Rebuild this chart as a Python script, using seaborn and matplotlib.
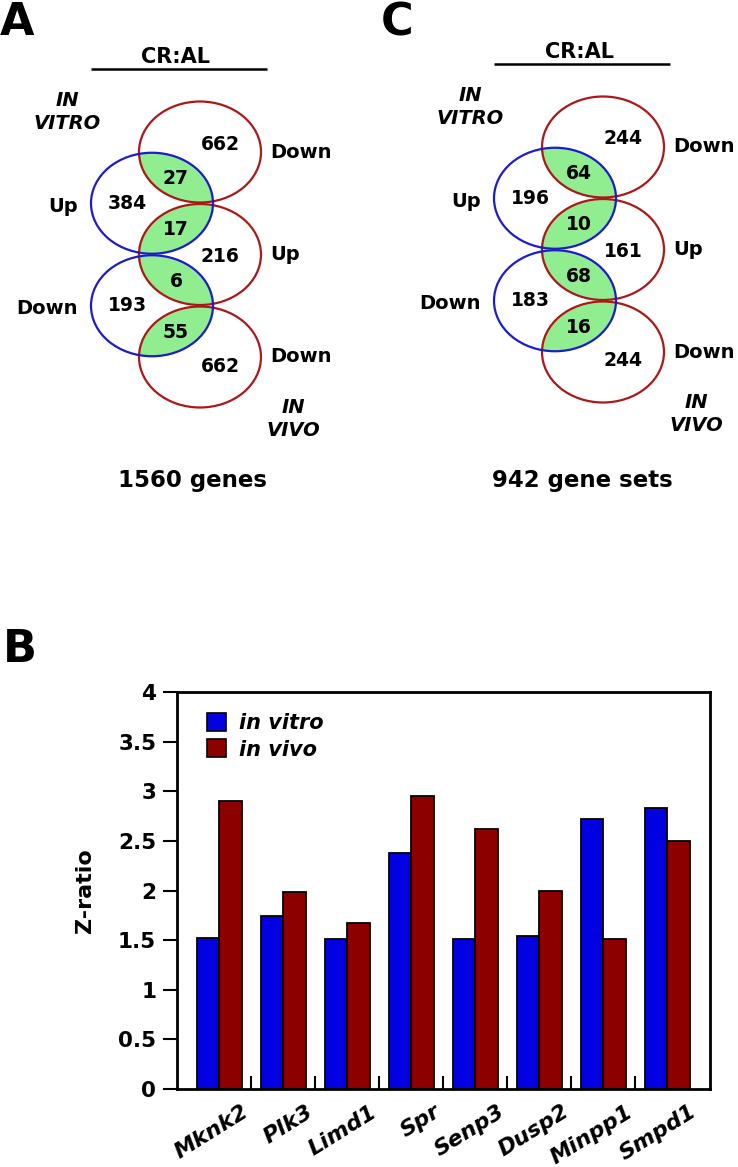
import numpy as np
import pandas as pd
import matplotlib
matplotlib.use("Agg")
import matplotlib.pyplot as plt
import matplotlib.patches as mpatches
import matplotlib.transforms as mtrans
import seaborn as sns

# ── Data ────────────────────────────────────────────────────
genes = ["Mknk2", "Plk3", "Limd1", "Spr", "Senp3", "Dusp2", "Minpp1", "Smpd1"]
z_in_vitro = [1.52, 1.74, 1.51, 2.38, 1.51, 1.54, 2.72, 2.83]
z_in_vivo = [2.90, 1.99, 1.67, 2.95, 2.62, 2.00, 1.51, 2.50]
conditions = ["in vitro", "in vivo"]
y_ticks = [0, 0.5, 1, 1.5, 2, 2.5, 3, 3.5, 4]
y_ticklabels = ["0", "0.5", "1", "1.5", "2", "2.5", "3", "3.5", "4"]

# Venn A (genes) / C (gene sets)
red_labels = ["Down", "Up", "Down"]      # in vivo
blue_labels = ["Up", "Down"]             # in vitro
venn_a_red = [662, 216, 662]
venn_a_blue = [384, 193]
venn_a_overlap = [27, 17, 6, 55]
venn_c_red = [244, 161, 244]
venn_c_blue = [196, 183]
venn_c_overlap = [64, 10, 68, 16]

BLUE_BAR = "#0000e0"
RED_BAR = "#8c0000"
RED_RING = "#aa1818"
BLUE_RING = "#1c1ccc"
LENS = "#90ee90"

sns.set_theme(style="ticks", rc={
    "text.color": "black", "axes.labelcolor": "black",
    "xtick.color": "black", "ytick.color": "black",
    "axes.edgecolor": "black",
})
plt.rcParams["font.family"] = ["DejaVu Sans"]

fig = plt.figure(figsize=(7.38, 11.67), dpi=100)

# background axes in pixel coordinates for the Venn panels
ax_v = fig.add_axes([0, 0, 1, 1], zorder=0)
ax_v.set_xlim(0, 738)
ax_v.set_ylim(1167, 0)
ax_v.axis("off")

RX, RY = 61, 50.5
DX, DY = 48, 51.25


def draw_venn(ax, x0, y0, red_n, blue_n, ov_n, footer, footer_dx):
    red_c = [(x0 + DX, y0 + 2 * i * DY) for i in range(3)]
    blue_c = [(x0, y0 + (2 * i + 1) * DY) for i in range(2)]
    reds = [mpatches.Ellipse(c, 2 * RX, 2 * RY, transform=ax.transData) for c in red_c]
    # green lenses: blue ellipse filled, clipped by neighbouring red ellipse
    pairs = [(0, 0), (0, 1), (1, 1), (1, 2)]
    for (b, r) in pairs:
        lens = mpatches.Ellipse(blue_c[b], 2 * RX, 2 * RY, facecolor=LENS,
                                edgecolor="none", zorder=1)
        ax.add_patch(lens)
        lens.set_clip_path(reds[r])
    for c in red_c:
        ax.add_patch(mpatches.Ellipse(c, 2 * RX, 2 * RY, facecolor="none",
                                      edgecolor=RED_RING, lw=1.6, zorder=2))
    for c in blue_c:
        ax.add_patch(mpatches.Ellipse(c, 2 * RX, 2 * RY, facecolor="none",
                                      edgecolor=BLUE_RING, lw=1.6, zorder=3))
    num = dict(fontsize=13.5, fontweight="bold", ha="center", va="center", zorder=4)
    red_dy = [-8, 2, 9]
    for (cx, cy), n, dy, lab in zip(red_c, red_n, red_dy, red_labels):
        ax.text(cx + 20, cy + dy, str(n), **num)
        ax.text(cx + 70, cy, lab, fontsize=14, fontweight="bold", ha="left", va="center")
    for (cx, cy), n, lab in zip(blue_c, blue_n, blue_labels):
        ax.text(cx - 25, cy, str(n), **num)
        ax.text(cx - 74, cy + 3, lab, fontsize=14, fontweight="bold", ha="right", va="center")
    for (b, r), n in zip(pairs, ov_n):
        mx = (blue_c[b][0] + red_c[r][0]) / 2
        my = (blue_c[b][1] + red_c[r][1]) / 2
        ax.text(mx, my + 1, str(n), **num)
    ax.text(x0 - 85, y0 - 40, "IN\nVITRO", fontsize=14, fontweight="bold",
            style="italic", ha="center", va="center", linespacing=1.3)
    ax.text(red_c[2][0] + 93, red_c[2][1] + 62, "IN\nVIVO", fontsize=14,
            fontweight="bold", style="italic", ha="center", va="center", linespacing=1.3)
    ax.text(x0 + 24, y0 - 95, "CR:AL", fontsize=15, fontweight="bold",
            ha="center", va="center")
    ax.plot([x0 - 61, x0 + 115], [y0 - 83, y0 - 83], color="black", lw=1.8,
            solid_capstyle="butt")
    ax.text(x0 + footer_dx, 480, footer, fontsize=16.5, fontweight="bold",
            ha="center", va="center")


draw_venn(ax_v, 152, 152, venn_a_red, venn_a_blue, venn_a_overlap, "1560 genes", 41)
draw_venn(ax_v, 555, 147, venn_c_red, venn_c_blue, venn_c_overlap, "942 gene sets", 27)

letter = dict(fontsize=32, fontweight="bold", ha="left", va="top")
ax_v.text(0, 1, "A", **letter)
ax_v.text(381, 1, "C", **letter)
ax_v.text(3, 628, "B", **letter)

# ── Panel B: bar chart ─────────────────────────────────────
df = pd.DataFrame({
    "gene": genes * 2,
    "z": z_in_vitro + z_in_vivo,
    "condition": [conditions[0]] * len(genes) + [conditions[1]] * len(genes),
})

ax = fig.add_axes([0.2398, 0.0668, 0.7222, 0.3402], zorder=1)
sns.barplot(data=df, x="gene", y="z", hue="condition", palette=[BLUE_BAR, RED_BAR],
            width=0.69, saturation=1, edgecolor="black", linewidth=1.3,
            ax=ax, legend=False)
ax.set_xlim(-0.664, 7.664)
ax.set_ylim(0, 4)
for sp in ax.spines.values():
    sp.set_linewidth(2.0)
    sp.set_color("black")

ax.set_yticks(y_ticks)
ax.set_yticklabels(y_ticklabels, fontsize=15.5, fontweight="bold")
ax.tick_params(axis="y", direction="out", length=10, width=1.5, pad=5)

ax.set_xticks(range(len(genes)))
ax.set_xticklabels(genes, fontsize=16, fontweight="bold", style="italic",
                   rotation=32, ha="right", va="top", rotation_mode="anchor")
ax.tick_params(axis="x", which="major", length=0, pad=9)
ax.set_xticks(np.arange(len(genes) - 1) + 0.5, minor=True)
ax.tick_params(axis="x", which="minor", direction="in", length=9.5, width=1.5)
offset = mtrans.ScaledTranslation(0.22, 0, fig.dpi_scale_trans)
for lab in ax.get_xticklabels():
    lab.set_transform(lab.get_transform() + offset)

ax.set_xlabel("")
ax.set_ylabel("Z-ratio", fontsize=16, fontweight="bold")
ax.yaxis.set_label_coords(-0.154, 0.5)

handles = [mpatches.Patch(facecolor=c, edgecolor="black", linewidth=1.2)
           for c in (BLUE_BAR, RED_BAR)]
ax.legend(handles, conditions, loc="upper left", bbox_to_anchor=(0.056, 0.947),
          frameon=False, borderaxespad=0, borderpad=0, handlelength=0.9,
          handleheight=0.95, handletextpad=0.65, labelspacing=0.3,
          prop={"size": 15, "weight": "bold", "style": "italic"})

fig.savefig("out.png", dpi=100)
